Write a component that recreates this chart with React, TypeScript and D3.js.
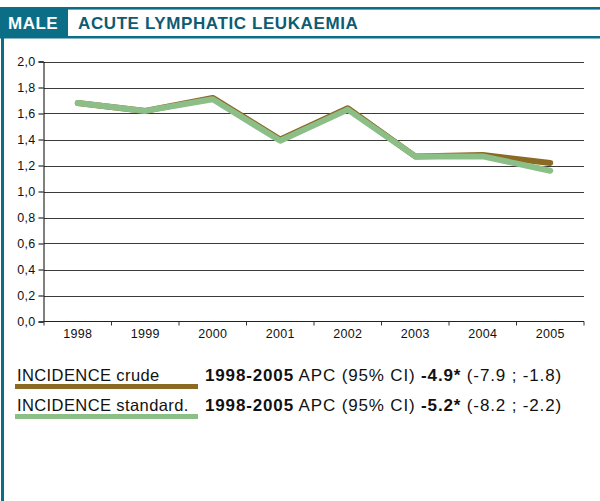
import * as d3 from "d3";
import { useEffect, useRef } from "react";

const years = ["1998", "1999", "2000", "2001", "2002", "2003", "2004", "2005"];
const crude = [1.68, 1.62, 1.72, 1.4, 1.64, 1.27, 1.28, 1.22];
const standard = [1.68, 1.62, 1.71, 1.39, 1.63, 1.27, 1.27, 1.16];
const yTicks = [0, 0.2, 0.4, 0.6, 0.8, 1.0, 1.2, 1.4, 1.6, 1.8, 2.0];

const sexLabel = "MALE";
const title = "ACUTE LYMPHATIC LEUKAEMIA";
const legendRows = [
  { name: "INCIDENCE crude", period: "1998-2005", apc: "-4.9*", ci: "(-7.9 ; -1.8)" },
  { name: "INCIDENCE standard.", period: "1998-2005", apc: "-5.2*", ci: "(-8.2 ; -2.2)" },
];

const TEAL = "#0b6e86";
const CRUDE = "#8b6a23";
const STD = "#8cbf88";
const FONT = "'Liberation Sans', Arial, Helvetica, sans-serif";

const W = 600;
const H = 501;

export default function App() {
  const svgRef = useRef<SVGSVGElement>(null);

  useEffect(() => {
    const svg = d3.select(svgRef.current);
    svg.selectChildren("*").remove();
    svg.style("font-family", FONT);

    // frame / header
    svg.append("rect").attr("x", 0).attr("y", 0).attr("width", W).attr("height", H).attr("fill", "#fff");
    svg.append("rect").attr("x", 0).attr("y", 7).attr("width", W).attr("height", 2).attr("fill", TEAL);
    svg.append("rect").attr("x", 0).attr("y", 9).attr("width", W).attr("height", 1).attr("fill", "#6fa9b9");
    svg.append("rect").attr("x", 0).attr("y", 36).attr("width", W).attr("height", 2.5).attr("fill", TEAL);
    svg.append("rect").attr("x", 0).attr("y", 8).attr("width", 68).attr("height", 30).attr("fill", TEAL);
    svg.append("rect").attr("x", 1).attr("y", 8).attr("width", 3).attr("height", H - 8).attr("fill", TEAL);

    svg
      .append("text")
      .attr("x", 8)
      .attr("y", 29)
      .attr("fill", "#fff")
      .attr("font-weight", "bold")
      .attr("font-size", 17)
      .attr("letter-spacing", 0.5)
      .text(sexLabel);
    svg
      .append("text")
      .attr("x", 78)
      .attr("y", 29)
      .attr("fill", "#0d5c72")
      .attr("font-weight", "bold")
      .attr("font-size", 17)
      .attr("letter-spacing", 0.6)
      .text(title);

    // scales
    const x = d3.scaleBand<string>().domain(years).range([44, 584]);
    const y = d3.scaleLinear().domain([0, 2]).range([321.5, 61.5]);
    const cx = (i: number) => (x(years[i]) as number) + x.bandwidth() / 2;

    const g = svg.append("g");

    // gridlines
    g.selectAll("line.grid")
      .data(yTicks.filter((t) => t > 0))
      .join("line")
      .attr("x1", 44)
      .attr("x2", 584)
      .attr("y1", (d) => Math.round(y(d)) + 0.5)
      .attr("y2", (d) => Math.round(y(d)) + 0.5)
      .attr("stroke", "#3a3a3a")
      .attr("stroke-width", 1);

    // y axis
    const yAxis = g
      .append("g")
      .attr("transform", "translate(43.5,0)")
      .call(
        d3
          .axisLeft(y)
          .tickValues(yTicks)
          .tickSize(5)
          .tickPadding(3)
          .tickFormat((d) => d3.format(".1f")(d as number).replace(".", ","))
      );
    yAxis.select(".domain").attr("stroke", "#000");
    yAxis
      .selectAll("text")
      .attr("font-size", 12.5)
      .attr("letter-spacing", 0.3)
      .attr("font-family", FONT)
      .attr("fill", "#111");

    // x axis
    const xAxis = g
      .append("g")
      .attr("transform", "translate(0,321.5)")
      .call(d3.axisBottom(x).tickSize(0).tickPadding(8));
    xAxis.select(".domain").attr("stroke", "#222").attr("d", "M44,0H584");
    xAxis
      .selectAll("text")
      .attr("font-size", 12.5)
      .attr("letter-spacing", 0.3)
      .attr("font-family", FONT)
      .attr("fill", "#111");
    g.selectAll("line.xtick")
      .data(d3.range(years.length + 1))
      .join("line")
      .attr("x1", (i) => 44 + i * x.step())
      .attr("x2", (i) => 44 + i * x.step())
      .attr("y1", 321.5)
      .attr("y2", 325.5)
      .attr("stroke", "#333");

    // lines
    const line = d3
      .line<number>()
      .x((_, i) => cx(i))
      .y((d) => y(d));

    g.append("path")
      .attr("d", line(crude))
      .attr("fill", "none")
      .attr("stroke", CRUDE)
      .attr("stroke-width", 6)
      .attr("stroke-linecap", "round")
      .attr("stroke-linejoin", "round");
    g.append("path")
      .attr("d", line(standard))
      .attr("fill", "none")
      .attr("stroke", STD)
      .attr("stroke-width", 6)
      .attr("stroke-linecap", "round")
      .attr("stroke-linejoin", "round");

    // legend
    const colors = [CRUDE, STD];
    legendRows.forEach((r, i) => {
      const by = 381 + i * 30;
      svg
        .append("text")
        .attr("x", 17)
        .attr("y", by)
        .attr("font-size", 16.5)
        .attr("letter-spacing", 0.4)
        .attr("fill", "#111")
        .text(r.name);
      svg
        .append("rect")
        .attr("x", 15)
        .attr("y", by + 3)
        .attr("width", 183)
        .attr("height", 5)
        .attr("fill", colors[i]);
      const t = svg
        .append("text")
        .attr("x", 205)
        .attr("y", by)
        .attr("font-size", 17)
        .attr("letter-spacing", 0.85)
        .attr("fill", "#111");
      t.append("tspan").attr("font-weight", "bold").text(r.period);
      t.append("tspan").text(" APC (95% CI) ");
      t.append("tspan").attr("font-weight", "bold").text(r.apc);
      t.append("tspan").text(" " + r.ci);
    });
  }, []);

  return (
    <svg
      ref={svgRef}
      width={W}
      height={H}
      style={{ position: "absolute", left: 0, top: 0, display: "block" }}
    />
  );
}
